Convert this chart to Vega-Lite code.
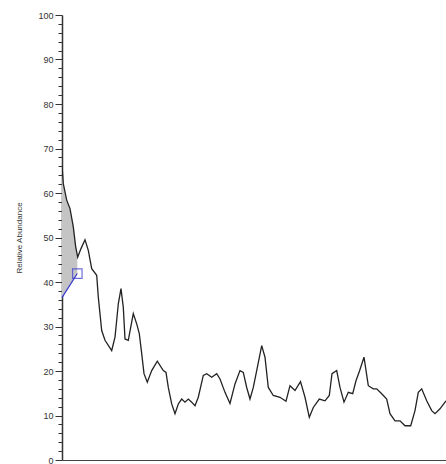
{
  "$schema": "https://vega.github.io/schema/vega-lite/v6.json",
  "autosize": {"type": "none"},
  "width": 384,
  "height": 445,
  "padding": {"left": 62, "top": 15, "right": 0, "bottom": 4},
  "background": "white",
  "config": {"view": {"stroke": null}},
  "datasets": {
    "trace": [
      {"t": 0, "v": 66.1}, {"t": 1.3, "v": 62.1}, {"t": 4.7, "v": 58.4}, {"t": 8, "v": 56.5},
      {"t": 11.3, "v": 52.4}, {"t": 13.7, "v": 47.9}, {"t": 15.7, "v": 45.6}, {"t": 19, "v": 47.5},
      {"t": 23, "v": 49.5}, {"t": 26.3, "v": 47.1}, {"t": 29.7, "v": 43}, {"t": 34.7, "v": 41.5},
      {"t": 36.3, "v": 36.6}, {"t": 39.7, "v": 29.1}, {"t": 43, "v": 26.9}, {"t": 49.7, "v": 24.6},
      {"t": 53, "v": 27.6}, {"t": 54.7, "v": 31.4}, {"t": 56.3, "v": 35.1}, {"t": 59, "v": 38.5},
      {"t": 61.3, "v": 34.3}, {"t": 63, "v": 27.2}, {"t": 66.3, "v": 26.9}, {"t": 68.7, "v": 29.8},
      {"t": 71.3, "v": 32.9}, {"t": 74.7, "v": 30.6}, {"t": 77.3, "v": 28.4}, {"t": 79.7, "v": 23.9},
      {"t": 82, "v": 19.4}, {"t": 85.3, "v": 17.5}, {"t": 89.7, "v": 20.1}, {"t": 95.3, "v": 22.2},
      {"t": 101.3, "v": 20.1}, {"t": 104, "v": 19.7}, {"t": 106.3, "v": 16.3}, {"t": 109.7, "v": 12.6},
      {"t": 113, "v": 10.4}, {"t": 116.3, "v": 12.6}, {"t": 119.7, "v": 13.7}, {"t": 123, "v": 13},
      {"t": 126.3, "v": 13.7}, {"t": 129.7, "v": 13}, {"t": 133, "v": 12.2}, {"t": 136.3, "v": 14.1},
      {"t": 141.3, "v": 19}, {"t": 144.7, "v": 19.4}, {"t": 149.7, "v": 18.6}, {"t": 154.7, "v": 19.4},
      {"t": 158, "v": 18.2}, {"t": 163, "v": 15.2}, {"t": 168, "v": 12.7}, {"t": 173, "v": 17.1},
      {"t": 178, "v": 20.1}, {"t": 181.3, "v": 19.7}, {"t": 184.7, "v": 16.3}, {"t": 188, "v": 13.7},
      {"t": 191.3, "v": 16.3}, {"t": 194.7, "v": 20.1}, {"t": 199.7, "v": 25.7}, {"t": 203, "v": 23.1},
      {"t": 206.3, "v": 16.3}, {"t": 211.3, "v": 14.5}, {"t": 218, "v": 14.1}, {"t": 224, "v": 13.2},
      {"t": 228, "v": 16.7}, {"t": 233, "v": 15.6}, {"t": 238.5, "v": 17.6}, {"t": 243, "v": 14.1},
      {"t": 247.3, "v": 9.6}, {"t": 251.3, "v": 11.8}, {"t": 257.3, "v": 13.7}, {"t": 263, "v": 13.3},
      {"t": 267.3, "v": 14.5}, {"t": 270, "v": 19.4}, {"t": 274.7, "v": 20.1}, {"t": 278, "v": 16.3},
      {"t": 282, "v": 13}, {"t": 286.3, "v": 15.2}, {"t": 290.7, "v": 14.9}, {"t": 294, "v": 17.8},
      {"t": 297.5, "v": 20}, {"t": 302, "v": 23.1}, {"t": 306.3, "v": 16.7}, {"t": 311.3, "v": 16},
      {"t": 314.7, "v": 16}, {"t": 319.7, "v": 14.9}, {"t": 324.7, "v": 13.7}, {"t": 328, "v": 10.4},
      {"t": 333, "v": 8.8}, {"t": 338, "v": 8.8}, {"t": 343, "v": 7.7}, {"t": 348.7, "v": 7.7},
      {"t": 353, "v": 11.1}, {"t": 356.3, "v": 15.2}, {"t": 359.7, "v": 16}, {"t": 364.7, "v": 13.3},
      {"t": 369.7, "v": 11.1}, {"t": 373, "v": 10.4}, {"t": 378, "v": 11.5}, {"t": 383, "v": 13},
      {"t": 384, "v": 13.3}
    ],
    "shade": [
      {"t": 0, "top": 66.1, "bottom": 36.5}, {"t": 1.3, "top": 62.1, "bottom": 37},
      {"t": 4.7, "top": 58.4, "bottom": 38.2}, {"t": 8, "top": 56.5, "bottom": 39.3},
      {"t": 11.3, "top": 52.4, "bottom": 40.5}, {"t": 13.7, "top": 47.9, "bottom": 41.3},
      {"t": 15.3, "top": 45.8, "bottom": 41.9}
    ],
    "baseline": [
      {"t": 0, "v": 36.5}, {"t": 15.3, "v": 41.9}
    ],
    "marker": [
      {"t": 15.3, "v": 41.9}
    ]
  },
  "layer": [
    {
      "data": {"name": "shade"},
      "mark": {"type": "area", "color": "#c4c4c4", "opacity": 1},
      "encoding": {
        "x": {"field": "t", "type": "quantitative", "scale": {"domain": [0, 384], "nice": false, "zero": false},
              "axis": {"labels": false, "ticks": false, "title": null, "domainColor": "#444", "domainWidth": 1.2, "grid": false}},
        "y": {"field": "top", "type": "quantitative"},
        "y2": {"field": "bottom"}
      }
    },
    {
      "data": {"name": "trace"},
      "mark": {"type": "line", "color": "#222222", "strokeWidth": 1.3, "clip": true},
      "encoding": {
        "x": {"field": "t", "type": "quantitative"},
        "y": {"field": "v", "type": "quantitative",
              "scale": {"domain": [0, 100], "nice": false},
              "axis": {
                "title": "Relative Abundance",
                "titleFont": "Liberation Sans", "titleFontSize": 8, "titleFontWeight": "normal", "titleColor": "#333333",
                "titlePadding": 14,
                "tickCount": 100,
                "values": [0,2,4,6,8,10,12,14,16,18,20,22,24,26,28,30,32,34,36,38,40,42,44,46,48,50,52,54,56,58,60,62,64,66,68,70,72,74,76,78,80,82,84,86,88,90,92,94,96,98,100],
                "labelExpr": "datum.value % 10 === 0 ? datum.label : ''",
                "labelOverlap": false,
                "labelFont": "Liberation Sans", "labelFontSize": 9, "labelColor": "#333333",
                "labelPadding": 2,
                "tickSize": {"condition": {"test": "datum.value % 10 === 0", "value": 7}, "value": 4},
                "tickColor": "#333333", "tickWidth": 1,
                "domainColor": "#333333", "domainWidth": 1.5,
                "grid": false
              }}
      }
    },
    {
      "data": {"name": "baseline"},
      "mark": {"type": "line", "color": "#3434d0", "strokeWidth": 1.2},
      "encoding": {
        "x": {"field": "t", "type": "quantitative"},
        "y": {"field": "v", "type": "quantitative"}
      }
    },
    {
      "data": {"name": "marker"},
      "mark": {"type": "point", "shape": "square", "filled": false, "color": "#3434d0", "size": 90, "strokeWidth": 1.2},
      "encoding": {
        "x": {"field": "t", "type": "quantitative"},
        "y": {"field": "v", "type": "quantitative"}
      }
    }
  ]
}
